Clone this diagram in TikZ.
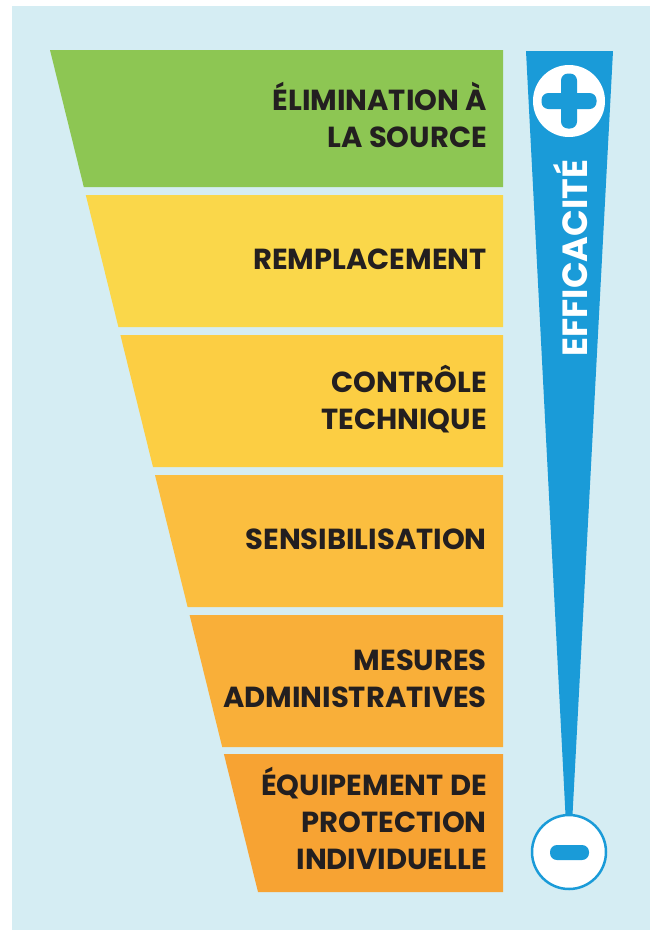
\documentclass[tikz,border=0pt]{standalone}
\usepackage{fontspec}
\setmainfont{Poppins}

\definecolor{bgblue}{HTML}{D5EDF3}
\definecolor{arrowblue}{HTML}{1A9BD8}
\definecolor{inkdark}{HTML}{231F20}
\definecolor{bandA}{HTML}{8DC653}
\definecolor{bandB}{HTML}{FAD74A}
\definecolor{bandC}{HTML}{FCCE43}
\definecolor{bandD}{HTML}{FBBE3F}
\definecolor{bandE}{HTML}{F9AF39}
\definecolor{bandF}{HTML}{F7A333}

\begin{document}
\begin{tikzpicture}[x=1pt, y=-1pt,
                    level/.style={anchor=east, align=right, text=inkdark,
                                  font=\fontsize{29}{37}\selectfont\bfseries, inner sep=0pt},
                    sign/.style={circle, fill=white, minimum size=72pt, inner sep=0pt}]
                    \useasboundingbox (0,0) rectangle (650,930);
                    \fill[bgblue] (12,6) rectangle (650,930);
                    % the funnel
                    \fill[bandA] (50,50) -- (503,50) -- (503,187) -- (83.8,187) -- cycle;
                    \fill[bandB] (85.8,195) -- (503,195) -- (503,327) -- (118.4,327) -- cycle;
                    \fill[bandC] (120.4,335) -- (503,335) -- (503,467) -- (153,467) -- cycle;
                    \fill[bandD] (155,475) -- (503,475) -- (503,607) -- (187.6,607) -- cycle;
                    \fill[bandE] (189.6,615) -- (503,615) -- (503,747) -- (222.2,747) -- cycle;
                    \fill[bandF] (223.9,754) -- (503,754) -- (503,892) -- (258,892) -- cycle;
                    \node[level] (source) at (487,115) {ÉLIMINATION À\\LA SOURCE};
                    \node[level] (remplace) at (487,259) {REMPLACEMENT};
                    \node[level] (technique) at (487,399) {CONTRÔLE\\TECHNIQUE};
                    \node[level] (sensible) at (487,539) {SENSIBILISATION};
                    \node[level] (admin) at (487,679) {MESURES\\ADMINISTRATIVES};
                    \node[level] (epi) at (487,818) {ÉQUIPEMENT DE\\PROTECTION\\INDIVIDUELLE};
                    % the scale
                    \fill[arrowblue] (526,51) -- (613,51) -- (572.5,815) -- (565.5,815) -- cycle;
                    \node[sign] (plus) at (569,101) {};
                    \fill[arrowblue, rounded corners=7pt] (541.5,93) rectangle (596.5,109);
                    \fill[arrowblue, rounded corners=7pt] (561,73.5) rectangle (577,128.5);
                    \node[sign, draw=arrowblue, line width=2.5pt, minimum size=74pt] (minus) at (569,852) {};
                    \fill[arrowblue, rounded corners=7pt] (550,845) rectangle (589,860);
                    \node[rotate=90, text=white, font=\fontsize{35}{35}\selectfont\bfseries, inner sep=0pt] (efficacite) at (571,258) {EFFICACITÉ};
                \end{tikzpicture}
\end{document}
